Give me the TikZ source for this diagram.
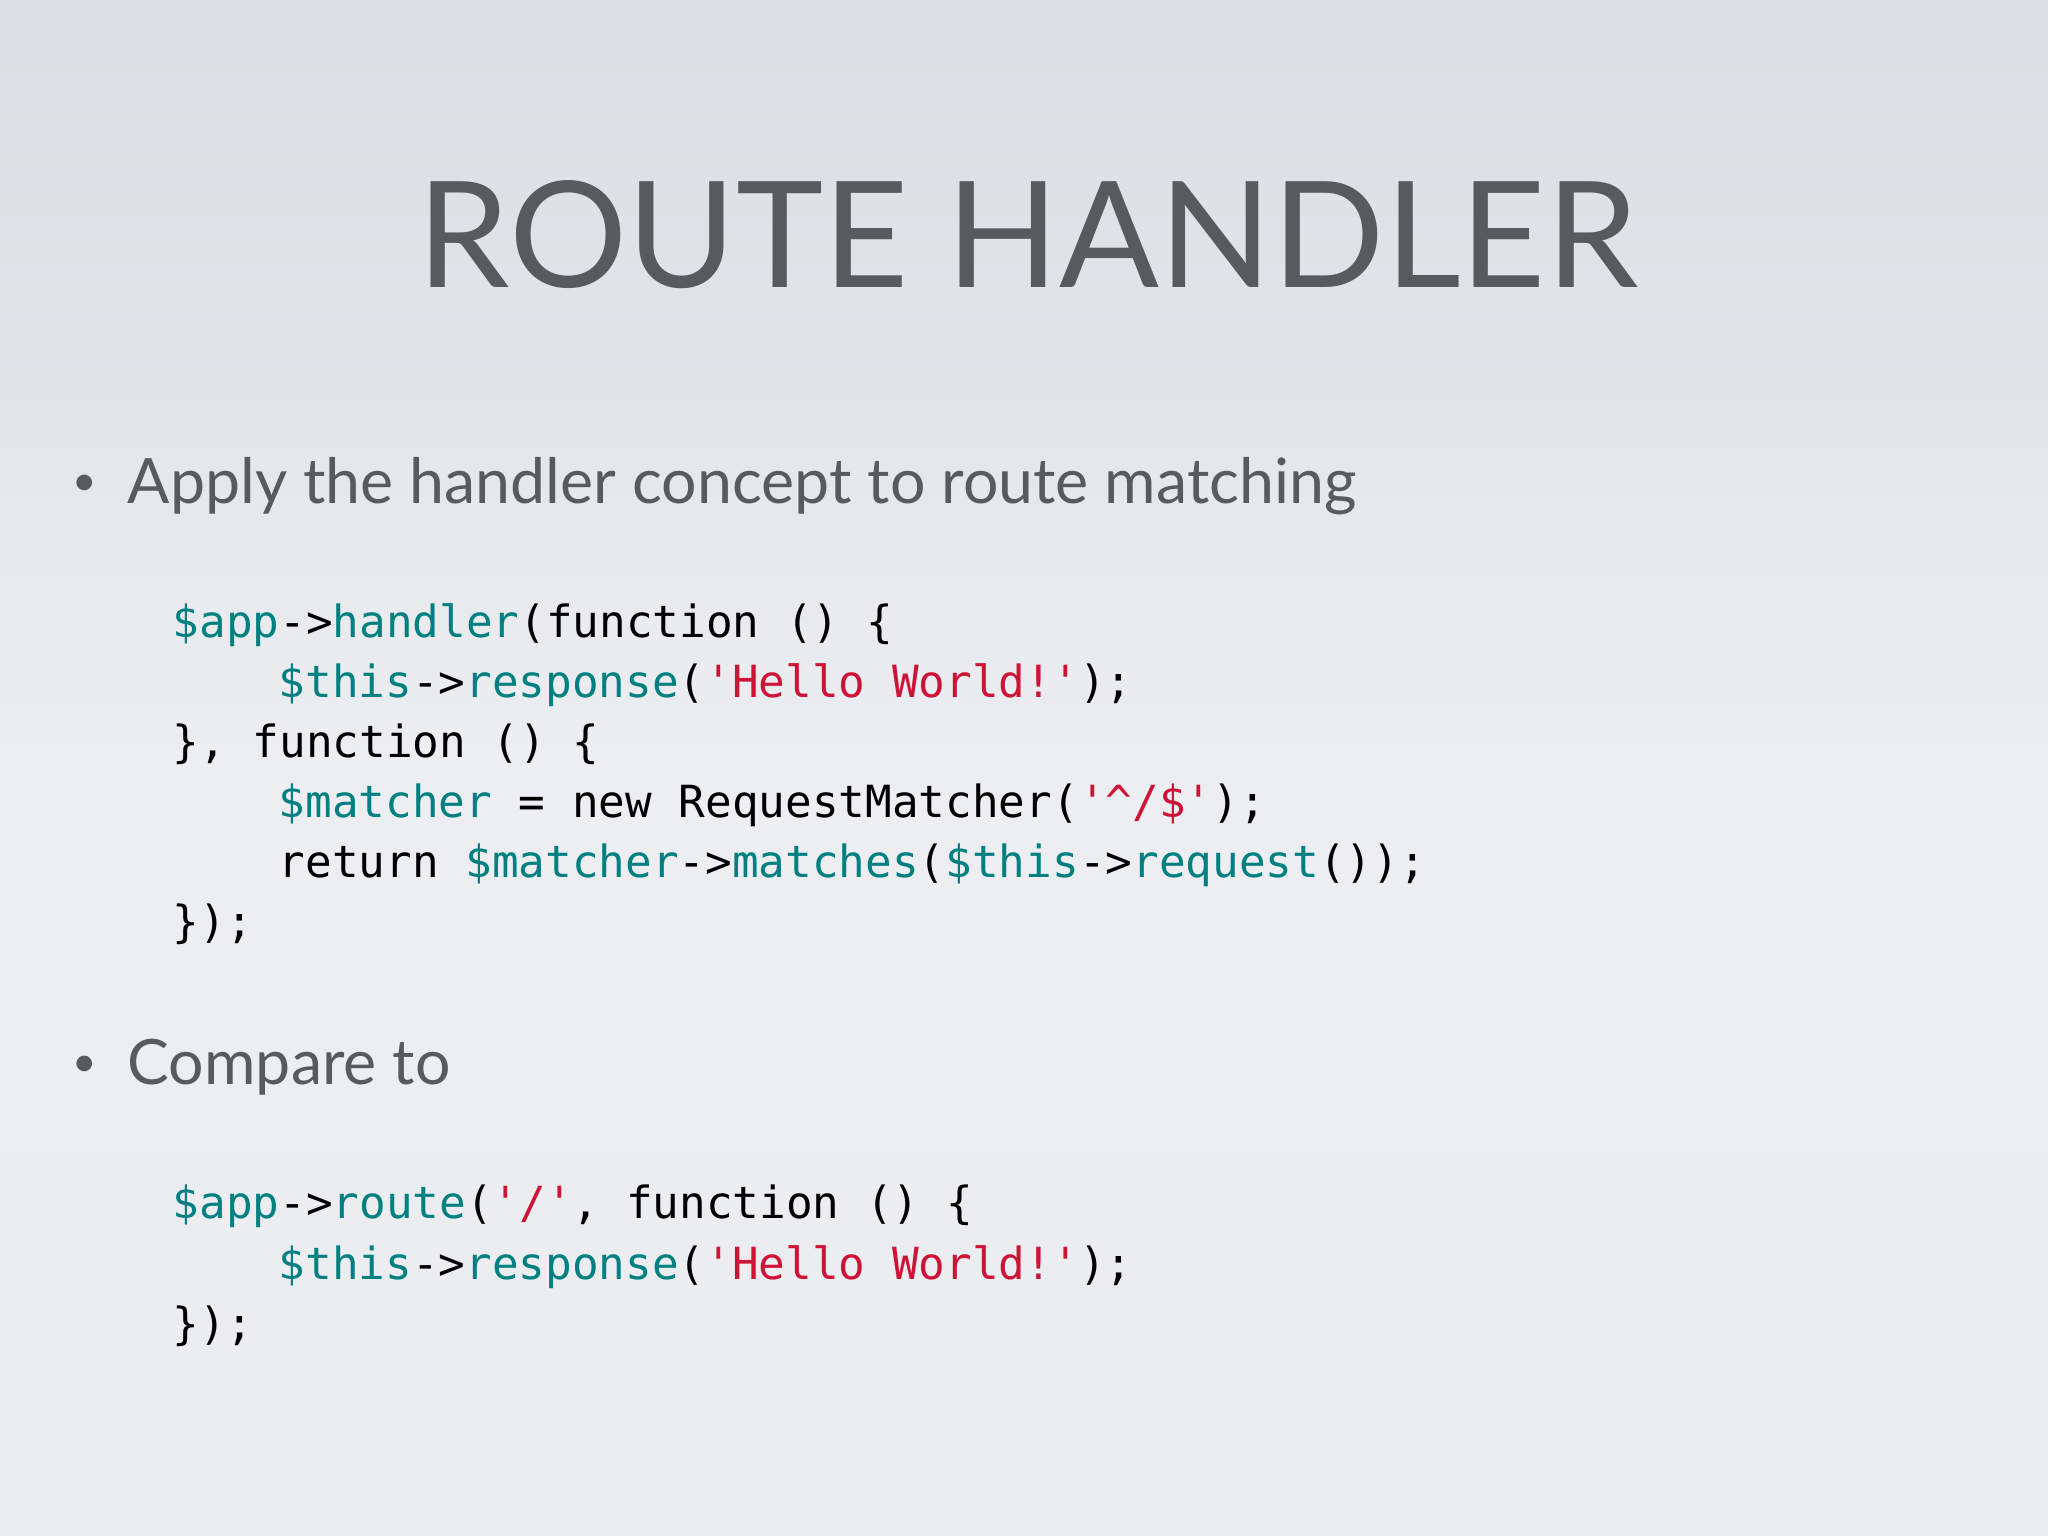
\documentclass[tikz,border=0pt]{standalone}
\usepackage{fontspec}
\setmainfont{Lato}
\newfontfamily\codefont{DejaVu Sans Mono}
\definecolor{tl}{RGB}{0,128,128}
\definecolor{rd}{RGB}{205,20,55}
\definecolor{tx}{RGB}{88,90,94}
\newcommand{\T}[1]{\textcolor{tl}{#1}}
\newcommand{\R}[1]{\textcolor{rd}{#1}}
\begin{document}
\begin{tikzpicture}[x=0.01cm,y=-0.01cm,
  code/.style={anchor=base west,inner sep=0,font=\codefont\fontsize{12.6}{14}\selectfont,text=black},
  bul/.style={anchor=base west,inner sep=0,font=\fontsize{17.8}{22}\selectfont,text=tx}]
\shade[top color={rgb,255:red,218;green,221;blue,225},bottom color={rgb,255:red,236;green,237;blue,240},middle color={rgb,255:red,236;green,238;blue,241}] (0,0) rectangle (2048,1536);
\useasboundingbox (0,0) rectangle (2048,1536);
\node[anchor=base,inner sep=0,font=\fontsize{42}{46}\selectfont,text=tx] (title) at (1028,287) {ROUTE HANDLER};
\node[bul,font=\fontsize{12}{14}\selectfont] (b1d) at (72,495) {•};
\node[bul] (b1) at (127,503) {Apply the handler concept to route matching};
\node[code] (c1) at (172,637) {\T{\$app}->\T{handler}(function () \{};
\node[code] (c2) at (278,697) {\T{\$this}->\T{response}(\R{'Hello World!'});};
\node[code] (c3) at (172,757) {\}, function () \{};
\node[code] (c4) at (278,817) {\T{\$matcher} = new RequestMatcher(\R{'\textasciicircum/\$'});};
\node[code] (c5) at (278,877) {return \T{\$matcher}->\T{matches}(\T{\$this}->\T{request}());};
\node[code] (c6) at (172,937) {\});};
\node[bul,font=\fontsize{12}{14}\selectfont] (b2d) at (72,1076) {•};
\node[bul] (b2) at (127,1084) {Compare to};
\node[code] (d1) at (172,1218) {\T{\$app}->\T{route}(\R{'/'}, function () \{};
\node[code] (d2) at (278,1279) {\T{\$this}->\T{response}(\R{'Hello World!'});};
\node[code] (d3) at (172,1339) {\});};
\end{tikzpicture}
\end{document}
